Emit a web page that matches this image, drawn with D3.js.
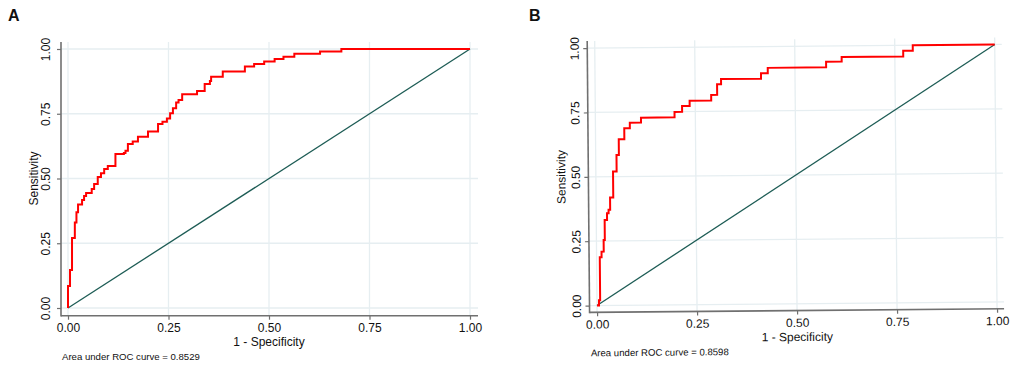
<!DOCTYPE html>
<html><head><meta charset="utf-8">
<script src="https://cdn.jsdelivr.net/npm/d3@7"></script>
<style>
body{margin:0;background:#fff;}
text{font-family:"Liberation Sans",Arial,sans-serif;}
</style></head>
<body><svg id="c" width="1021" height="378"></svg>
<script>
// ----- data -----
const tickValues = [0, 0.25, 0.5, 0.75, 1];
const tickLabels = ["0.00", "0.25", "0.50", "0.75", "1.00"];
const diagFpr = [0, 1];
const diagTpr = [0, 1];

const fprA = [0,0,0.004,0.005,0.009,0.010,0.015,0.017,0.021,0.025,0.030,0.035,0.040,0.045,0.055,0.059,0.065,0.074,0.082,0.090,0.099,0.115,0.118,0.139,0.143,0.149,0.161,0.174,0.199,0.224,0.235,0.246,0.254,0.261,0.269,0.275,0.284,0.317,0.321,0.334,0.340,0.353,0.356,0.381,0.385,0.436,0.440,0.461,0.463,0.486,0.488,0.512,0.514,0.534,0.536,0.562,0.563,0.625,0.627,0.679,0.680,1];
const tprA = [0,0.085,0.085,0.147,0.147,0.27,0.27,0.33,0.37,0.40,0.40,0.417,0.432,0.444,0.444,0.459,0.479,0.506,0.52,0.537,0.548,0.548,0.595,0.598,0.607,0.633,0.643,0.661,0.681,0.71,0.719,0.732,0.752,0.771,0.793,0.803,0.825,0.825,0.838,0.838,0.865,0.876,0.893,0.893,0.913,0.913,0.932,0.932,0.942,0.942,0.952,0.952,0.961,0.961,0.97,0.97,0.982,0.982,0.99,0.99,1,1];

const fprB = [0,0.005,0.008,0.008,0.0125,0.0125,0.018,0.018,0.021,0.021,0.027,0.027,0.031,0.031,0.035,0.035,0.043,0.043,0.048,0.052,0.057,0.058,0.072,0.072,0.086,0.086,0.114,0.114,0.198,0.198,0.217,0.217,0.236,0.236,0.29,0.29,0.305,0.305,0.315,0.315,0.415,0.415,0.432,0.432,0.578,0.578,0.617,0.617,0.771,0.771,0.795,0.795,1];
const tprB = [0,0.02,0.02,0.187,0.19,0.209,0.209,0.254,0.254,0.332,0.332,0.358,0.358,0.371,0.371,0.419,0.419,0.52,0.52,0.584,0.584,0.645,0.645,0.687,0.687,0.709,0.709,0.728,0.728,0.749,0.749,0.772,0.772,0.792,0.792,0.814,0.814,0.855,0.855,0.875,0.875,0.896,0.896,0.917,0.917,0.939,0.939,0.957,0.957,0.979,0.979,1,1];

const panels = [
  {letter:"A", auc:"Area under ROC curve = 0.8529", fpr:fprA, tpr:tprA,
   x0:68, x1:470, y0:308, y1:49, axX:61, axY:315.7, top:42, right:478,
   yLabOff:11, titleOff:23, letterX:8, letterY:21, rot:0},
  {letter:"B", auc:"Area under ROC curve = 0.8598", fpr:fprB, tpr:tprB,
   x0:597, x1:997, y0:305.5, y1:48, axX:589.5, axY:312.3, top:41, right:1004,
   yLabOff:8.5, titleOff:23, letterX:529, letterY:21, rot:-0.5}
];

const svg = d3.select("#c");
const gridColor = "#e6eef1", axisColor = "#707070";

panels.forEach(p => {
  svg.append("text").attr("x", p.letterX).attr("y", p.letterY)
    .attr("font-size", 16).attr("font-weight", "bold").attr("fill", "#111").text(p.letter);

  const g = svg.append("g").attr("transform", `rotate(${p.rot},${p.x0},${p.y0})`);
  const x = d3.scaleLinear().domain([0, 1]).range([p.x0, p.x1]);
  const y = d3.scaleLinear().domain([0, 1]).range([p.y0, p.y1]);

  // grid
  g.selectAll(".vg").data(tickValues).join("line")
    .attr("x1", d => x(d)).attr("x2", d => x(d)).attr("y1", p.top).attr("y2", p.axY)
    .attr("stroke", gridColor).attr("stroke-width", 1.3);
  g.selectAll(".hg").data(tickValues).join("line").attr("class","hg")
    .attr("x1", p.axX).attr("x2", p.right).attr("y1", d => y(d)).attr("y2", d => y(d))
    .attr("stroke", gridColor).attr("stroke-width", 1.3);

  // axes
  const xa = g.append("g").attr("transform", `translate(0,${p.axY})`)
    .call(d3.axisBottom(x).tickValues(tickValues).tickFormat((d,i) => tickLabels[i]).tickSize(4).tickPadding(3.8));
  xa.select(".domain").remove();
  xa.selectAll("line").attr("stroke", axisColor).attr("stroke-width", 1.2);
  xa.selectAll("text").attr("font-size", 12).attr("fill", "#111")
    .style("font-family", '"Liberation Sans",Arial,sans-serif');

  const ya = g.append("g").attr("transform", `translate(${p.axX},0)`)
    .call(d3.axisLeft(y).tickValues(tickValues).tickFormat((d,i) => tickLabels[i]).tickSize(4));
  ya.select(".domain").remove();
  ya.selectAll("line").attr("stroke", axisColor).attr("stroke-width", 1.2);
  ya.selectAll("text").attr("x", null).attr("dy", null).attr("text-anchor", "middle")
    .attr("transform", `translate(${-p.yLabOff},0) rotate(-90)`)
    .attr("font-size", 12).attr("fill", "#111")
    .style("font-family", '"Liberation Sans",Arial,sans-serif');

  g.append("line").attr("x1", p.axX).attr("x2", p.axX).attr("y1", p.top).attr("y2", p.axY + 0.8)
    .attr("stroke", axisColor).attr("stroke-width", 1.6);
  g.append("line").attr("x1", p.axX).attr("x2", p.right).attr("y1", p.axY).attr("y2", p.axY)
    .attr("stroke", axisColor).attr("stroke-width", 1.6);

  // diagonal
  const line = d3.line().x(d => x(d[0])).y(d => y(d[1]));
  g.append("path").datum(diagFpr.map((v,i) => [v, diagTpr[i]]))
    .attr("d", line).attr("fill", "none").attr("stroke", "#1d5c55").attr("stroke-width", 1.3);

  // ROC curve (staircase)
  const stepLine = d3.line().x(d => x(d[0])).y(d => y(d[1])).curve(d3.curveStepAfter);
  g.append("path").datum(p.fpr.map((v,i) => [v, p.tpr[i]]))
    .attr("d", stepLine).attr("fill", "none").attr("stroke", "#ff0000").attr("stroke-width", 2)
    .attr("stroke-linejoin", "miter");

  // titles
  g.append("text").attr("x", x(0.5)).attr("y", p.axY + 30.5).attr("text-anchor", "middle")
    .attr("font-size", 12).attr("fill", "#111").text("1 - Specificity");
  g.append("text").attr("transform", `translate(${p.axX - p.titleOff},${y(0.5)}) rotate(-90)`)
    .attr("text-anchor", "middle").attr("font-size", 12).attr("fill", "#111").text("Sensitivity");
  g.append("text").attr("x", p.axX + 1).attr("y", p.axY + 44)
    .attr("font-size", 9.6).attr("fill", "#111").text(p.auc);
});
</script></body></html>
